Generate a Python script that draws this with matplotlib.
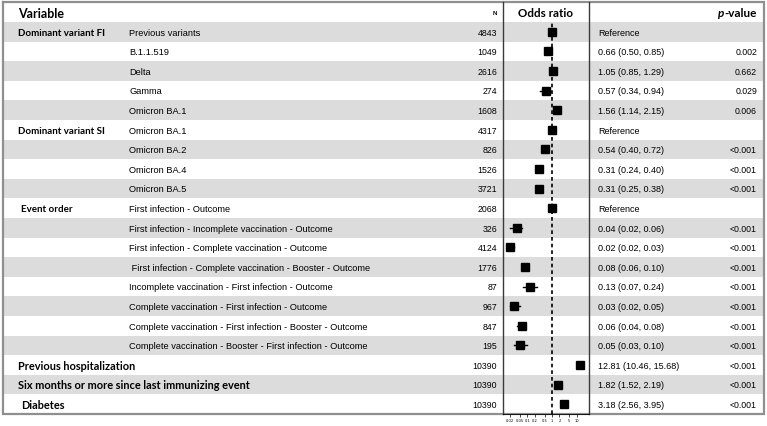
import matplotlib
matplotlib.use("Agg")
import matplotlib.pyplot as plt
import numpy as np

nan = np.nan
groups = ["Dominant variant FI", "", "", "", "", "Dominant variant SI", "", "", "",
          "Event order", "", "", "", "", "", "", "",
          "Previous hospitalization", "Six months or more since last immunizing event", "Diabetes"]
subgroups = ["Previous variants", "B.1.1.519", "Delta", "Gamma", "Omicron BA.1",
             "Omicron BA.1", "Omicron BA.2", "Omicron BA.4", "Omicron BA.5",
             "First infection - Outcome",
             "First infection - Incomplete vaccination - Outcome",
             "First infection - Complete vaccination - Outcome",
             " First infection - Complete vaccination - Booster - Outcome",
             "Incomplete vaccination - First infection - Outcome",
             "Complete vaccination - First infection - Outcome",
             "Complete vaccination - First infection - Booster - Outcome",
             "Complete vaccination - Booster - First infection - Outcome",
             "", "", ""]
n_values = [4843, 1049, 2616, 274, 1608, 4317, 826, 1526, 3721, 2068, 326, 4124, 1776,
            87, 967, 847, 195, 10390, 10390, 10390]
odds = [1.0, 0.66, 1.05, 0.57, 1.56, 1.0, 0.54, 0.31, 0.31, 1.0, 0.04, 0.02, 0.08,
        0.13, 0.03, 0.06, 0.05, 12.81, 1.82, 3.18]
ci_low = [nan, 0.50, 0.85, 0.34, 1.14, nan, 0.40, 0.24, 0.25, nan, 0.02, 0.02, 0.06,
          0.07, 0.02, 0.04, 0.03, 10.46, 1.52, 2.56]
ci_high = [nan, 0.85, 1.29, 0.94, 2.15, nan, 0.72, 0.40, 0.38, nan, 0.06, 0.03, 0.10,
           0.24, 0.05, 0.08, 0.10, 15.68, 2.19, 3.95]
is_reference = [True, False, False, False, False, True, False, False, False, True,
                False, False, False, False, False, False, False, False, False, False]
p_values = ["", "0.002", "0.662", "0.029", "0.006", "", "<0.001", "<0.001", "<0.001", "",
            "<0.001", "<0.001", "<0.001", "<0.001", "<0.001", "<0.001", "<0.001",
            "<0.001", "<0.001", "<0.001"]
x_ticks = [0.02, 0.05, 0.1, 0.2, 0.5, 1, 2, 5, 10]
x_tick_labels = ["0.02", "0.05", "0.1", "0.2", "0.5", "1", "2", "5", "10"]

W, H = 767, 427
fig = plt.figure(figsize=(W / 100, H / 100), dpi=100)

# layout (pixels)
top_border, header_bottom, bottom_border = 3, 23, 415
left_border, right_border = 3, 764
sep1, sep2 = 503, 589
nrows = len(subgroups)
rowh = (bottom_border - header_bottom) / nrows

bg = fig.add_axes([0, 0, 1, 1])
bg.set_xlim(0, W)
bg.set_ylim(H, 0)
bg.axis("off")

band_color = "#dcdcdc"
for i in range(nrows):
    y0 = header_bottom + i * rowh
    if i % 2 == 0:
        bg.fill_between([left_border, right_border], y0, y0 + rowh, color=band_color, lw=0, zorder=0)

# borders
bg.plot([left_border, right_border, right_border, left_border, left_border],
        [top_border, top_border, bottom_border, bottom_border, top_border],
        color="#8f8f8f", lw=1.6, zorder=3, solid_joinstyle="miter")
for xs in (sep1, sep2):
    bg.plot([xs, xs], [top_border, bottom_border], color="#3a3a3a", lw=1.0, zorder=3)

bold_font = "Lato"
txt_font = "Liberation Sans"

# header
hy = (top_border + header_bottom) / 2 + 0.5
bg.text(18, hy, "Variable", fontfamily=bold_font, fontweight="bold", fontsize=9,
        ha="left", va="center")
bg.text(497, hy, "N", fontfamily=txt_font, fontweight="bold", fontsize=4.5,
        ha="right", va="center")
bg.text((sep1 + sep2) / 2, hy, "Odds ratio", fontfamily=bold_font, fontweight="bold",
        fontsize=8.4, ha="center", va="center")
tv = bg.text(757, hy, "-value", fontfamily=bold_font, fontweight="bold", fontsize=8.5,
             ha="right", va="center")
fig.canvas.draw()
bb = tv.get_window_extent()
bg.text(bb.x0 - 0.3, hy, "p", fontfamily=bold_font, fontweight="bold", style="italic",
        fontsize=8.5, ha="right", va="center")

single_rows = ("Previous hospitalization", "Six months or more since last immunizing event", "Diabetes")
for i in range(nrows):
    yc = header_bottom + (i + 0.5) * rowh + 0.3
    if groups[i]:
        gx = 21 if groups[i] in ("Event order", "Diabetes") else 18
        gs = 7.9 if groups[i] in single_rows else 7.0
        bg.text(gx, yc, groups[i], fontfamily=bold_font, fontweight="bold", fontsize=gs,
                ha="left", va="center")
    if subgroups[i]:
        bg.text(129, yc, subgroups[i], fontfamily=txt_font, fontsize=6.7,
                ha="left", va="center")
    bg.text(497, yc, f"{n_values[i]}", fontfamily=txt_font, fontsize=6.3,
            ha="right", va="center")
    if is_reference[i]:
        est = "Reference"
    else:
        est = f"{odds[i]:.2f} ({ci_low[i]:.2f}, {ci_high[i]:.2f})"
    bg.text(598, yc, est, fontfamily=txt_font, fontsize=6.5, ha="left", va="center")
    if p_values[i]:
        bg.text(757, yc, p_values[i], fontfamily=txt_font, fontsize=6.3,
                ha="right", va="center")

# forest panel
fa = fig.add_axes([sep1 / W, (H - bottom_border) / H, (sep2 - sep1) / W,
                   (bottom_border - header_bottom) / H])
fa.set_xscale("log")
fa.set_xlim(0.0107, 30.8)
fa.set_ylim(nrows - 0.5, -0.5)
fa.patch.set_alpha(0)
for s in ("top", "left", "right"):
    fa.spines[s].set_visible(False)
fa.spines["bottom"].set_linewidth(0.6)
fa.set_yticks([])
fa.set_xticks(x_ticks)
fa.set_xticklabels(x_tick_labels)
fa.xaxis.set_minor_locator(matplotlib.ticker.NullLocator())
fa.tick_params(axis="x", labelsize=2.6, length=2, width=0.5, pad=0.8)

rows = np.arange(nrows)
fa.axvline(1, color="black", lw=1.2, ls=(0, (2.2, 1.8)), zorder=1)
lo = np.array(ci_low)
hi = np.array(ci_high)
o = np.array(odds)
for i in rows:
    if not np.isnan(lo[i]):
        fa.plot([lo[i], hi[i]], [i, i], color="black", lw=1.0, zorder=2)
fa.plot(o, rows, ls="none", marker="s", ms=6.4, color="black", mec="black", zorder=3)

fig.savefig("out.png", dpi=100)
